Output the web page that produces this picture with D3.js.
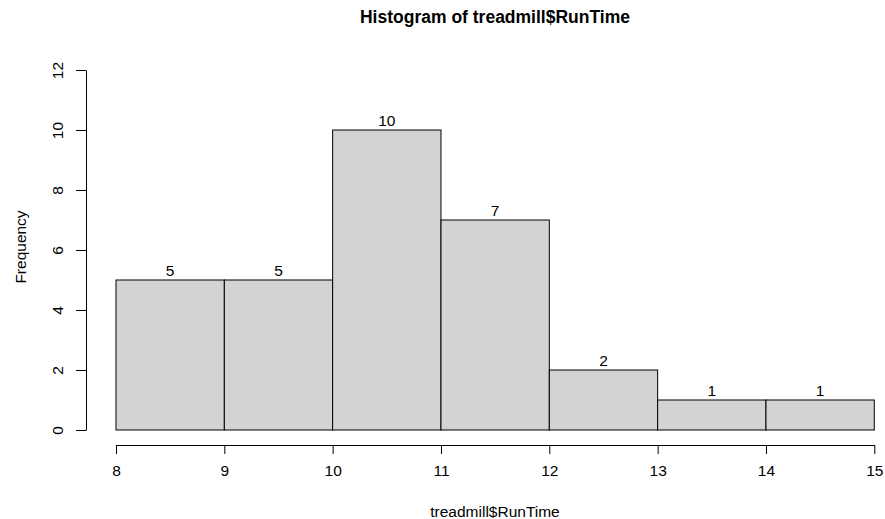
<!DOCTYPE html>
<html><head><meta charset="utf-8">
<script src="https://cdn.jsdelivr.net/npm/d3@7"></script>
<style>body{margin:0;background:#fff}svg{display:block}text{font-family:"Liberation Sans",Arial,sans-serif;fill:#000}</style>
</head><body>
<script>
const breaks = [8, 9, 10, 11, 12, 13, 14, 15];
const counts = [5, 5, 10, 7, 2, 1, 1];
const yTicks = [0, 2, 4, 6, 8, 10, 12];
const title = "Histogram of treadmill$RunTime";
const xLabel = "treadmill$RunTime";
const yLabel = "Frequency";

const W = 885, H = 519, FS = 15.5;
const svg = d3.select("body").append("svg").attr("width", W).attr("height", H);
const x = d3.scaleLinear().domain([8, 15]).range([116, 874.3]);
const y = d3.scaleLinear().domain([0, 12]).range([430, 70]);

const bins = counts.map((c, i) => ({x0: breaks[i], x1: breaks[i+1], c}));
svg.selectAll("rect.bar").data(bins).enter().append("rect")
  .attr("x", d => x(d.x0)).attr("width", d => x(d.x1) - x(d.x0))
  .attr("y", d => y(d.c)).attr("height", d => y(0) - y(d.c))
  .attr("fill", "#d3d3d3").attr("stroke", "#000").attr("stroke-width", 1);

svg.selectAll("text.lab").data(bins).enter().append("text")
  .attr("x", d => (x(d.x0) + x(d.x1)) / 2).attr("y", d => y(d.c) - 4.5)
  .attr("text-anchor", "middle").attr("font-size", FS).text(d => d.c);

// x axis
const xa = svg.append("g").attr("transform", "translate(0,445)")
  .call(d3.axisBottom(x).tickValues(breaks).tickFormat(d3.format("d")).tickSize(9).tickPadding(11).tickSizeOuter(0));
xa.select(".domain").attr("stroke", "#000");
xa.selectAll("text").attr("font-size", FS).style("font-family", "Liberation Sans, Arial, sans-serif");

// y axis
const ya = svg.append("g").attr("transform", "translate(86,0)")
  .call(d3.axisLeft(y).tickValues(yTicks).tickFormat(d3.format("d")).tickSize(10).tickSizeOuter(0));
ya.selectAll("text").remove();
ya.selectAll(".tick").append("text")
  .attr("transform", "translate(-23,0) rotate(-90)")
  .attr("text-anchor", "middle").attr("font-size", FS).attr("fill", "#000")
  .style("font-family", "Liberation Sans, Arial, sans-serif")
  .text(d => d);

svg.append("text").attr("x", 495).attr("y", 23).attr("text-anchor", "middle")
  .attr("font-size", 17.5).attr("font-weight", "bold").text(title);
svg.append("text").attr("x", 495).attr("y", 517).attr("text-anchor", "middle")
  .attr("font-size", FS).text(xLabel);
svg.append("text").attr("transform", "translate(26,247) rotate(-90)").attr("text-anchor", "middle")
  .attr("font-size", FS).text(yLabel);
</script>
</body></html>
